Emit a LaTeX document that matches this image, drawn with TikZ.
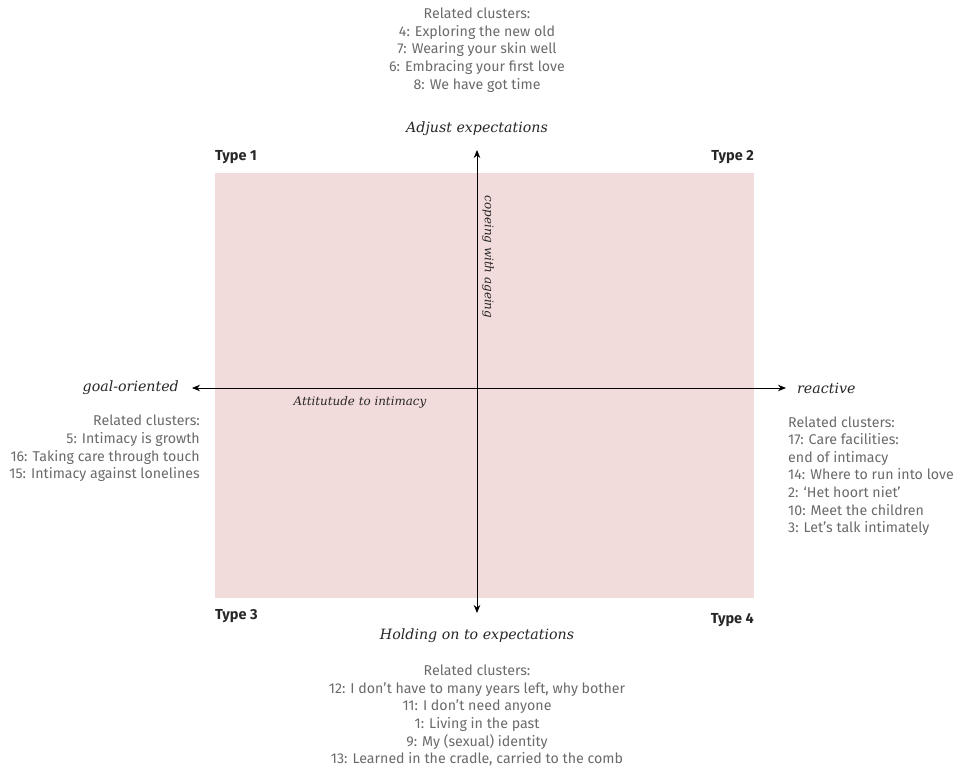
\documentclass[tikz,border=0pt]{standalone}
\usepackage{fontspec}
\setsansfont{Fira Sans}
\newfontfamily\axisfont{DejaVu Serif}
\usetikzlibrary{arrows.meta}
\definecolor{quadfill}{HTML}{F2DCDB}
\definecolor{clustergray}{HTML}{6A6A6A}
\tikzset{
  axis/.style={line width=0.9pt, -{Stealth[length=8pt,width=6.5pt]}},
  axislabel/.style={font=\axisfont\itshape\fontsize{14.2}{16}\selectfont, text=black!85, inner sep=0pt},
  smalllabel/.style={font=\axisfont\itshape\fontsize{11.9}{14}\selectfont, text=black!85, inner sep=0pt},
  cluster/.style={font=\sffamily\fontsize{14.2}{17.6}\selectfont, text=clustergray, inner sep=0pt},
  typelabel/.style={font=\sffamily\bfseries\fontsize{14.5}{16}\selectfont, text=black!85, inner sep=0pt},
}
\begin{document}
\begin{tikzpicture}[x=1pt,y=-1pt]
  \useasboundingbox (0,0) rectangle (953,768);
  % quadrant field
  \fill[quadfill] (215,173) rectangle (754,598);
  % centre and axis end points
  \coordinate (c) at (477,388);
  \coordinate (top) at (477,150);
  \coordinate (bottom) at (477,613);
  \coordinate (left) at (192,388);
  \coordinate (right) at (786,388);
  \draw[axis] (c) -- (top);
  \draw[axis] (c) -- (bottom);
  \draw[axis] (c) -- (left);
  \draw[axis] (c) -- (right);
  % axis labels
  \node[axislabel] (adjust) at (477,129) {Adjust expectations};
  \node[axislabel] (holding) at (477,636) {Holding on to expectations};
  \node[axislabel, anchor=east] (goal) at (179,388) {goal-oriented};
  \node[axislabel, anchor=west] (reactive) at (797,388) {reactive};
  \node[smalllabel, rotate=-90] (coping) at (488,257) {copeing with ageing};
  \node[smalllabel] (attitude) at (360,402) {Attitutude to intimacy};
  % quadrant types
  \node[typelabel, anchor=west] (t1) at (215,157) {Type 1};
  \node[typelabel, anchor=east] (t2) at (754,157) {Type 2};
  \node[typelabel, anchor=west] (t3) at (215,616) {Type 3};
  \node[typelabel, anchor=east] (t4) at (754,620) {Type 4};
  % related clusters
  \node[cluster, align=center] (ctop) at (477,50) {Related clusters:\\4: Exploring the new old\\7: Wearing your skin well\\6: Embracing your first love\\8: We have got time};
  \node[cluster, align=right, anchor=east] (cleft) at (200,448.5) {Related clusters:\\5: Intimacy is growth\\16: Taking care through touch\\15: Intimacy against lonelines};
  \node[cluster, align=left, anchor=west] (cright) at (788,476) {Related clusters:\\17: Care facilities:\\end of intimacy\\14: Where to run into love\\2: `Het hoort niet'\\10: Meet the children\\3: Let's talk intimately};
  \node[cluster, align=center] (cbottom) at (477,715.5) {Related clusters:\\12: I don't have to many years left, why bother\\11: I don't need anyone\\1: Living in the past\\9: My (sexual) identity\\13: Learned in the cradle, carried to the comb};
\end{tikzpicture}
\end{document}
